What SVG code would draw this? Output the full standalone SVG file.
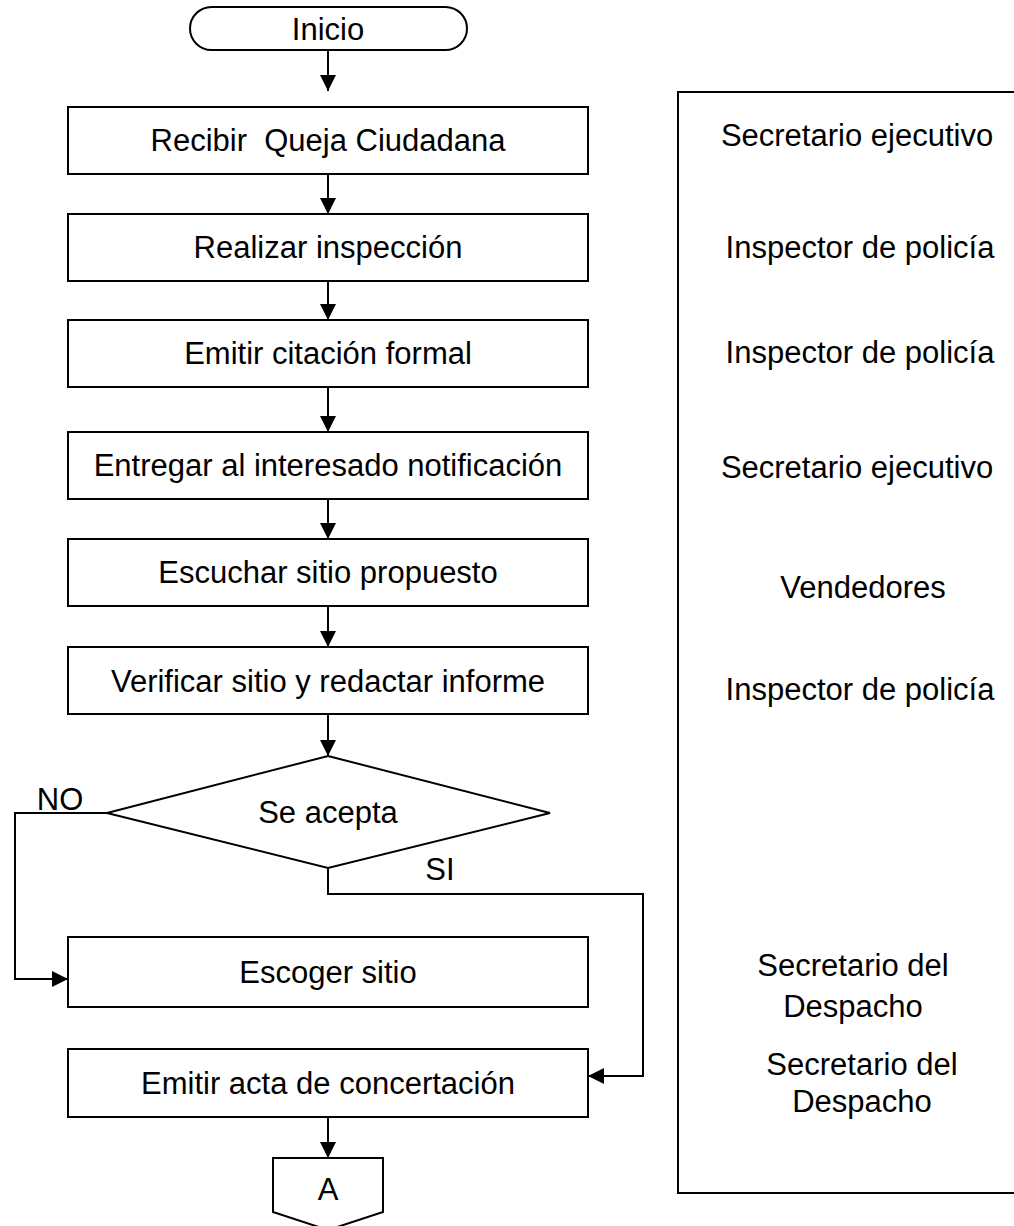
<svg xmlns="http://www.w3.org/2000/svg" width="1014" height="1226" viewBox="0 0 1014 1226">
<style>
.s{fill:#fff;stroke:#000;stroke-width:2}
.t{font-family:"Liberation Sans",Arial,sans-serif;font-size:31px;fill:#000;text-anchor:middle;white-space:pre}
.c{fill:none;stroke:#000;stroke-width:2}
</style>
<defs>
<marker id="ah" markerUnits="userSpaceOnUse" markerWidth="16" markerHeight="16" viewBox="0 0 16 16" refX="16" refY="8" orient="auto">
<path d="M0,0 L16,8 L0,16 Z" fill="#000"/>
</marker>
</defs>
<rect width="1014" height="1226" fill="#fff"/>
<g id="panel">
<rect class="s" x="678" y="92" width="360" height="1101"/>
<text class="t" x="857" y="146">Secretario ejecutivo</text>
<text class="t" x="860" y="258">Inspector de policía</text>
<text class="t" x="860" y="363">Inspector de policía</text>
<text class="t" x="857" y="478">Secretario ejecutivo</text>
<text class="t" x="863" y="598">Vendedores</text>
<text class="t" x="860" y="700">Inspector de policía</text>
<text class="t" x="853" y="976">Secretario del</text>
<text class="t" x="853" y="1017">Despacho</text>
<text class="t" x="862" y="1075">Secretario del</text>
<text class="t" x="862" y="1112">Despacho</text>
</g>
<g id="connectors">
<line class="c" x1="328" y1="50" x2="328" y2="91" marker-end="url(#ah)"/>
<line class="c" x1="328" y1="174" x2="328" y2="214" marker-end="url(#ah)"/>
<line class="c" x1="328" y1="281" x2="328" y2="320" marker-end="url(#ah)"/>
<line class="c" x1="328" y1="387" x2="328" y2="432" marker-end="url(#ah)"/>
<line class="c" x1="328" y1="499" x2="328" y2="539" marker-end="url(#ah)"/>
<line class="c" x1="328" y1="606" x2="328" y2="647" marker-end="url(#ah)"/>
<line class="c" x1="328" y1="714" x2="328" y2="756" marker-end="url(#ah)"/>
<polyline class="c" points="107,813 15,813 15,979 68,979" marker-end="url(#ah)"/>
<polyline class="c" points="328,868 328,894 643,894 643,1076 588,1076" marker-end="url(#ah)"/>
<line class="c" x1="328" y1="1117" x2="328" y2="1158" marker-end="url(#ah)"/>
<text class="t" x="60" y="810">NO</text>
<text class="t" x="440" y="880">SI</text>
</g>
<g id="inicio">
<rect class="s" x="190" y="7" width="277" height="43" rx="21.5" ry="21.5"/>
<text class="t" x="328" y="40">Inicio</text>
</g>
<g id="recibir">
<rect class="s" x="68" y="107" width="520" height="67"/>
<text class="t" x="328" y="151" xml:space="preserve">Recibir  Queja Ciudadana</text>
</g>
<g id="realizar">
<rect class="s" x="68" y="214" width="520" height="67"/>
<text class="t" x="328" y="258">Realizar inspección</text>
</g>
<g id="emitir-citacion">
<rect class="s" x="68" y="320" width="520" height="67"/>
<text class="t" x="328" y="364">Emitir citación formal</text>
</g>
<g id="entregar">
<rect class="s" x="68" y="432" width="520" height="67"/>
<text class="t" x="328" y="476">Entregar al interesado notificación</text>
</g>
<g id="escuchar">
<rect class="s" x="68" y="539" width="520" height="67"/>
<text class="t" x="328" y="583">Escuchar sitio propuesto</text>
</g>
<g id="verificar">
<rect class="s" x="68" y="647" width="520" height="67"/>
<text class="t" x="328" y="692">Verificar sitio y redactar informe</text>
</g>
<g id="decision">
<polygon class="s" points="328,756 550,813 328,868 107,813"/>
<text class="t" x="328" y="823">Se acepta</text>
</g>
<g id="escoger">
<rect class="s" x="68" y="937" width="520" height="70"/>
<text class="t" x="328" y="983">Escoger sitio</text>
</g>
<g id="emitir-acta">
<rect class="s" x="68" y="1049" width="520" height="68"/>
<text class="t" x="328" y="1094">Emitir acta de concertación</text>
</g>
<g id="conector-a">
<polygon class="s" points="273,1158 383,1158 383,1212 328,1230 273,1212"/>
<text class="t" x="328" y="1200">A</text>
</g>
</svg>
